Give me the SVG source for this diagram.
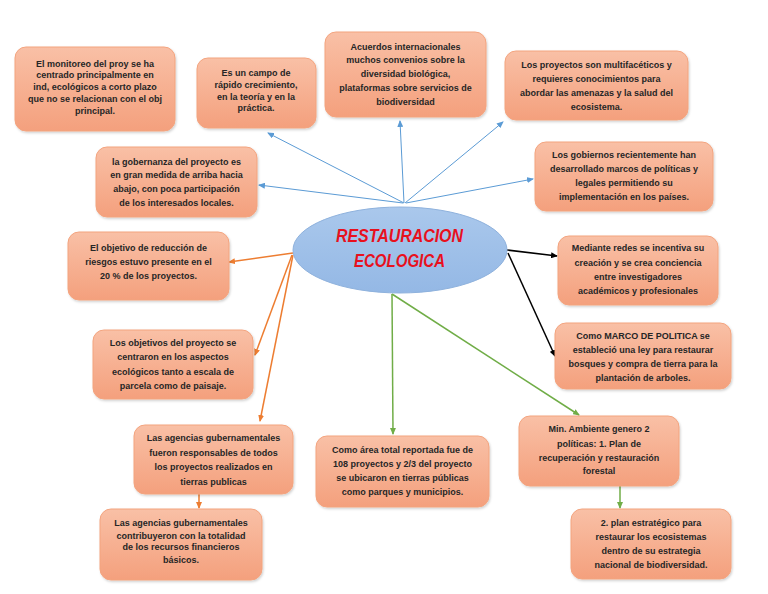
<svg xmlns="http://www.w3.org/2000/svg" width="768" height="594" viewBox="0 0 768 594">
<defs>
<linearGradient id="gBox" x1="0" y1="0" x2="0" y2="1">
<stop offset="0" stop-color="#F9C0A6"/>
<stop offset="1" stop-color="#F4A07D"/>
</linearGradient>
<linearGradient id="gEll" x1="0" y1="0" x2="0" y2="1">
<stop offset="0" stop-color="#AAC8EC"/>
<stop offset="1" stop-color="#94B8E5"/>
</linearGradient>
<filter id="sh" x="-10%" y="-10%" width="130%" height="130%">
<feDropShadow dx="1" dy="1.5" stdDeviation="1.2" flood-color="#000" flood-opacity="0.18"/>
</filter>
<marker id="mB" markerWidth="7" markerHeight="6" refX="6" refY="3" orient="auto" markerUnits="userSpaceOnUse"><path d="M0,0 L7,3 L0,6 z" fill="#5B9BD5"/></marker>
<marker id="mO" markerWidth="7" markerHeight="6" refX="6" refY="3" orient="auto" markerUnits="userSpaceOnUse"><path d="M0,0 L7,3 L0,6 z" fill="#ED7D31"/></marker>
<marker id="mK" markerWidth="7" markerHeight="6" refX="6" refY="3" orient="auto" markerUnits="userSpaceOnUse"><path d="M0,0 L7,3 L0,6 z" fill="#000"/></marker>
<marker id="mG" markerWidth="7" markerHeight="6" refX="6" refY="3" orient="auto" markerUnits="userSpaceOnUse"><path d="M0,0 L7,3 L0,6 z" fill="#70AD47"/></marker>
</defs>
<style>
.box{fill:url(#gBox);stroke:#F3A47F;stroke-width:1;filter:url(#sh)}
.t{font-family:"Liberation Sans",Arial,sans-serif;font-weight:bold;font-size:9px;fill:#262626;text-anchor:middle}
.title{font-family:"Liberation Sans",Arial,sans-serif;font-weight:bold;font-style:italic;font-size:17.5px;fill:#E8101D}
.cb{stroke:#5B9BD5;stroke-width:1;fill:none;marker-end:url(#mB)}
.co{stroke:#ED7D31;stroke-width:1.5;fill:none;marker-end:url(#mO)}
.ck{stroke:#000;stroke-width:1.5;fill:none;marker-end:url(#mK)}
.cg{stroke:#70AD47;stroke-width:1.5;fill:none;marker-end:url(#mG)}
</style>
<rect width="768" height="594" fill="#fff"/>
<g id="connectors">
<line class="cb" x1="404" y1="203" x2="268" y2="133"/>
<line class="cb" x1="404" y1="203" x2="400" y2="121"/>
<line class="cb" x1="405" y1="203" x2="503" y2="122"/>
<line class="cb" x1="406" y1="203" x2="533" y2="179"/>
<line class="cb" x1="403" y1="203" x2="259" y2="185"/>
<line class="co" x1="293" y1="253" x2="229" y2="262"/>
<line class="co" x1="292" y1="255" x2="255" y2="355"/>
<line class="co" x1="293" y1="255" x2="260" y2="421"/>
<line class="co" x1="199" y1="494" x2="199" y2="508"/>
<line class="ck" x1="507" y1="250" x2="557" y2="256"/>
<line class="ck" x1="508" y1="253" x2="555" y2="356"/>
<line class="cg" x1="392" y1="294" x2="393" y2="434"/>
<line class="cg" x1="392" y1="294" x2="579" y2="415"/>
<line class="cg" x1="620" y1="486" x2="620" y2="508"/>
</g>
<g id="center">
<ellipse cx="400" cy="250" rx="107" ry="43" fill="url(#gEll)" stroke="#8FB2DD" stroke-width="1"/>
<text class="title" x="336" y="242" textLength="127" lengthAdjust="spacingAndGlyphs">RESTAURACION</text>
<text class="title" x="354" y="267" textLength="91" lengthAdjust="spacingAndGlyphs">ECOLOGICA</text>
</g>
<g id="n1">
<rect class="box" x="15" y="47" width="160" height="84" rx="11"/>
<text class="t" x="95" y="66.5">El monitoreo del proy se ha</text>
<text class="t" x="95" y="78.3">centrado principalmente en</text>
<text class="t" x="95" y="90.1">ind, ecológicos a corto plazo</text>
<text class="t" x="95" y="101.9">que no se relacionan con el obj</text>
<text class="t" x="95" y="113.7">principal.</text>
</g>
<g id="n2">
<rect class="box" x="197" y="58" width="119" height="70" rx="11"/>
<text class="t" x="256" y="76.3">Es un campo de</text>
<text class="t" x="256" y="88">rápido crecimiento,</text>
<text class="t" x="256" y="99.7">en la teoría y en la</text>
<text class="t" x="256" y="111.3">práctica.</text>
</g>
<g id="n3">
<rect class="box" x="325" y="32" width="161" height="85" rx="11"/>
<text class="t" x="405.5" y="49.7">Acuerdos internacionales</text>
<text class="t" x="405.5" y="63.4">muchos convenios sobre la</text>
<text class="t" x="405.5" y="77.2">diversidad biológica,</text>
<text class="t" x="405.5" y="90.9">plataformas sobre servicios de</text>
<text class="t" x="405.5" y="104.7">biodiversidad</text>
</g>
<g id="n4">
<rect class="box" x="505" y="51" width="183" height="69" rx="11"/>
<text class="t" x="596.5" y="68">Los proyectos son multifacéticos y</text>
<text class="t" x="596.5" y="82.2">requieres conocimientos para</text>
<text class="t" x="596.5" y="96.3">abordar las amenazas y la salud del</text>
<text class="t" x="596.5" y="110.3">ecosistema.</text>
</g>
<g id="n5">
<rect class="box" x="96" y="147" width="161" height="70" rx="11"/>
<text class="t" x="176.5" y="164.7">la gobernanza del proyecto es</text>
<text class="t" x="176.5" y="178">en gran medida de arriba hacia</text>
<text class="t" x="176.5" y="192.3">abajo, con poca participación</text>
<text class="t" x="176.5" y="206.3">de los interesados locales.</text>
</g>
<g id="n6">
<rect class="box" x="535" y="142" width="178" height="69" rx="11"/>
<text class="t" x="624" y="158">Los gobiernos recientemente han</text>
<text class="t" x="624" y="172">desarrollado marcos de políticas y</text>
<text class="t" x="624" y="185.7">legales permitiendo su</text>
<text class="t" x="624" y="199.7">implementación en los países.</text>
</g>
<g id="n7">
<rect class="box" x="68" y="232" width="161" height="68" rx="11"/>
<text class="t" x="148.5" y="251.3">El objetivo de reducción de</text>
<text class="t" x="148.5" y="264.7">riesgos estuvo presente en el</text>
<text class="t" x="148.5" y="279">20 % de los proyectos.</text>
</g>
<g id="n8">
<rect class="box" x="558" y="236" width="160" height="69" rx="11"/>
<text class="t" x="638" y="251.3">Mediante redes se incentiva su</text>
<text class="t" x="638" y="265.7">creación y se crea conciencia</text>
<text class="t" x="638" y="280">entre investigadores</text>
<text class="t" x="638" y="294">académicos y profesionales</text>
</g>
<g id="n9">
<rect class="box" x="93" y="330" width="160" height="69" rx="11"/>
<text class="t" x="173" y="346.3">Los objetivos del proyecto se</text>
<text class="t" x="173" y="360.3">centraron en los aspectos</text>
<text class="t" x="173" y="374.7">ecológicos tanto a escala de</text>
<text class="t" x="173" y="389">parcela como de paisaje.</text>
</g>
<g id="n10">
<rect class="box" x="555" y="323" width="176" height="66" rx="11"/>
<text class="t" x="643" y="338.7">Como MARCO DE POLITICA se</text>
<text class="t" x="643" y="353">estableció una ley para restaurar</text>
<text class="t" x="643" y="367">bosques y compra de tierra para la</text>
<text class="t" x="643" y="381.3">plantación de arboles.</text>
</g>
<g id="n11">
<rect class="box" x="134" y="425" width="159" height="69" rx="11"/>
<text class="t" x="213.5" y="441.3">Las agencias gubernamentales</text>
<text class="t" x="213.5" y="455.7">fueron responsables de todos</text>
<text class="t" x="213.5" y="469.7">los proyectos realizados en</text>
<text class="t" x="213.5" y="484.7">tierras publicas</text>
</g>
<g id="n12">
<rect class="box" x="316" y="436" width="173" height="71" rx="11"/>
<text class="t" x="402.5" y="453">Como área total reportada fue de</text>
<text class="t" x="402.5" y="467">108 proyectos y 2/3 del proyecto</text>
<text class="t" x="402.5" y="481.3">se ubicaron en tierras públicas</text>
<text class="t" x="402.5" y="495">como parques y municipios.</text>
</g>
<g id="n13">
<rect class="box" x="519" y="416" width="160" height="70" rx="11"/>
<text class="t" x="599" y="432.3">Min. Ambiente genero 2</text>
<text class="t" x="599" y="447">políticas: 1. Plan de</text>
<text class="t" x="599" y="461">recuperación y restauración</text>
<text class="t" x="599" y="474.3">forestal</text>
</g>
<g id="n14">
<rect class="box" x="571" y="509" width="160" height="70" rx="11"/>
<text class="t" x="651" y="525.7">2. plan estratégico para</text>
<text class="t" x="651" y="540">restaurar los ecosistemas</text>
<text class="t" x="651" y="554">dentro de su estrategia</text>
<text class="t" x="651" y="568.3">nacional de biodiversidad.</text>
</g>
<g id="n15">
<rect class="box" x="100" y="509" width="162" height="71" rx="11"/>
<text class="t" x="181" y="526.3">Las agencias gubernamentales</text>
<text class="t" x="181" y="538.7">contribuyeron con la totalidad</text>
<text class="t" x="181" y="550.3">de los recursos financieros</text>
<text class="t" x="181" y="563">básicos.</text>
</g>
</svg>
